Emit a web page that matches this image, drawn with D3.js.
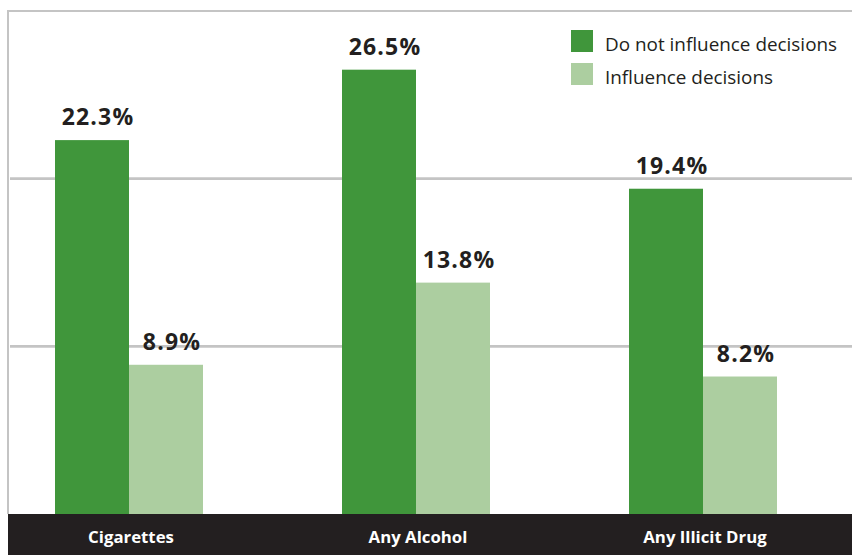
<!DOCTYPE html>
<html>
<head>
<meta charset="utf-8">
<script src="https://cdn.jsdelivr.net/npm/d3@7"></script>
<style>
  html, body { margin: 0; padding: 0; background: #ffffff; }
  svg { display: block; }
  text { font-family: "Open Sans", "DejaVu Sans", sans-serif; }
</style>
</head>
<body>
<svg id="chart" width="852" height="555"></svg>
<script>
// Substance use by whether peers influence decisions (percent)
const categories = ["Cigarettes", "Any Alcohol", "Any Illicit Drug"];
const seriesNames = ["Do not influence decisions", "Influence decisions"];
const doNotInfluence = [22.3, 26.5, 19.4];
const influence = [8.9, 13.8, 8.2];
const gridTicks = [10, 20];
const seriesColors = ["#40963b", "#accea0"];

const svg = d3.select("#chart");
const W = 852, H = 555;
const frameLeft = 8;

const y = d3.scaleLinear().domain([0, 30]).range([514, 11]);
const xCenter = d3.scalePoint().domain(categories).range([129, 703]);
const xInner = d3.scaleBand().domain(seriesNames).range([-74, 74]);
const color = d3.scaleOrdinal().domain(seriesNames).range(seriesColors);

const rows = categories.map((c, i) => ({
  category: c,
  values: [
    { key: seriesNames[0], value: doNotInfluence[i] },
    { key: seriesNames[1], value: influence[i] }
  ]
}));

// Frame: top edge sits at the 30% level, plus a left edge
svg.append("line")
  .attr("x1", frameLeft).attr("x2", W)
  .attr("y1", y(30)).attr("y2", y(30))
  .attr("stroke", "#c4c4c4").attr("stroke-width", 2);
svg.append("line")
  .attr("x1", frameLeft).attr("x2", frameLeft)
  .attr("y1", y(30) - 1).attr("y2", y(0))
  .attr("stroke", "#c4c4c4").attr("stroke-width", 2);

// Horizontal gridlines
svg.append("g").selectAll("line")
  .data(gridTicks)
  .join("line")
  .attr("x1", frameLeft + 2).attr("x2", W)
  .attr("y1", d => y(d)).attr("y2", d => y(d))
  .attr("stroke", "#c4c4c4").attr("stroke-width", 2.6);

// Bars
const groups = svg.append("g").selectAll("g")
  .data(rows)
  .join("g")
  .attr("transform", d => `translate(${xCenter(d.category)},0)`);

groups.selectAll("rect")
  .data(d => d.values)
  .join("rect")
  .attr("x", d => xInner(d.key))
  .attr("width", xInner.bandwidth())
  .attr("y", d => y(d.value))
  .attr("height", d => y(0) - y(d.value))
  .attr("fill", d => color(d.key));

// Value labels
groups.selectAll("text.value")
  .data(d => d.values)
  .join("text")
  .attr("class", "value")
  .attr("x", d => xInner(d.key) + xInner.bandwidth() / 2 + 6)
  .attr("y", d => y(d.value) - 15)
  .attr("text-anchor", "middle")
  .attr("font-size", 23)
  .attr("font-weight", 700)
  .attr("letter-spacing", 1.2)
  .attr("fill", "#231f20")
  .text(d => d.value.toFixed(1) + "%");

// Dark category band along the baseline
svg.append("rect")
  .attr("x", frameLeft).attr("y", y(0))
  .attr("width", W - frameLeft).attr("height", H - y(0))
  .attr("fill", "#231f20");

svg.append("g").selectAll("text")
  .data(categories)
  .join("text")
  .attr("x", d => xCenter(d) + 2)
  .attr("y", 543)
  .attr("text-anchor", "middle")
  .attr("font-size", 16.8)
  .attr("font-weight", 700)
  .attr("fill", "#ffffff")
  .text(d => d);

// Legend
const legend = svg.append("g").attr("transform", "translate(571,30)");
const items = legend.selectAll("g")
  .data(seriesNames)
  .join("g")
  .attr("transform", (d, i) => `translate(0,${i * 33})`);
items.append("rect")
  .attr("width", 22).attr("height", 22)
  .attr("fill", d => color(d));
items.append("text")
  .attr("x", 34).attr("y", 20.5)
  .attr("font-size", 18.9)
  .attr("fill", "#231f20")
  .text(d => d);
</script>
</body>
</html>
